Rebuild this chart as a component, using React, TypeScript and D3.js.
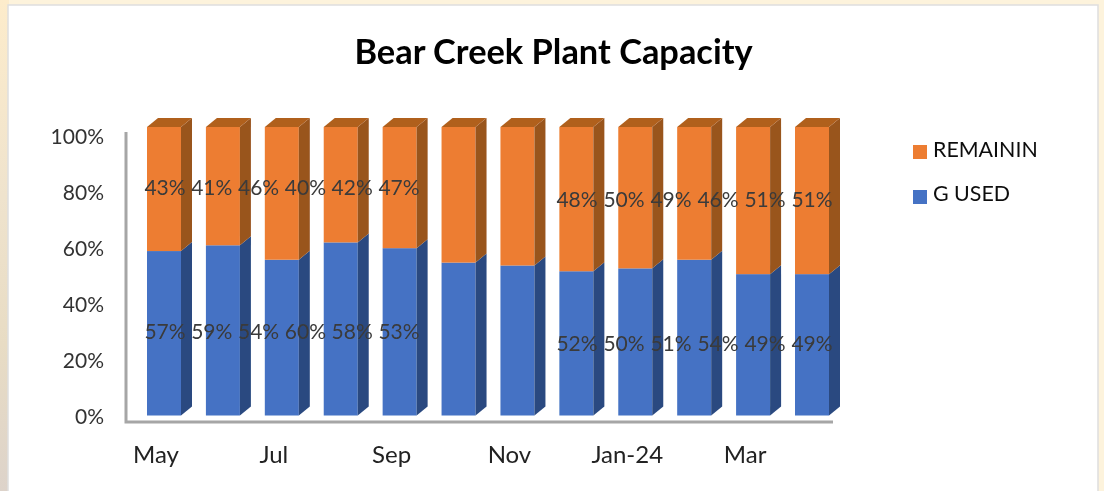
import React from "react";
import * as d3 from "d3";

const months = ["May","Jun","Jul","Aug","Sep","Oct","Nov","Dec","Jan-24","Feb","Mar","Apr"];
const axisLabels = ["May","Jul","Sep","Nov","Jan-24","Mar"];
const used = [57,59,54,60,58,53,52,50,51,54,49,49];
const remaining = [43,41,46,40,42,47,48,50,49,46,51,51];
const labelledFirst = months.slice(0,6);
const labelledLast = months.slice(6);
const yTicks = [0,20,40,60,80,100];
const legendNames = ["REMAININ","G USED"];

const W = 1104, H = 491;
const font = "Lato,'Open Sans',sans-serif";
const dx = 11, dy = 9;

export default function App() {
  const x = d3.scalePoint<string>().domain(months).range([147, 795]);
  const y = d3.scaleLinear().domain([0,100]).range([415.5,127]);
  const yAxis = d3.scaleLinear().domain([0,100]).range([416,136]);
  const xAxisLabel = d3.scalePoint<string>().domain(months).range([156, 804]);
  const lab1 = d3.scalePoint<string>().domain(labelledFirst).range([165, 399]);
  const lab2 = d3.scalePoint<string>().domain(labelledLast).range([577, 812]);
  const bw = 34;
  const line = d3.line();
  const poly = (pts: [number,number][]) => line(pts)! + "Z";

  const seg = (m: string, lo: number, hi: number, front: string, side: string, top: string | null) => {
    const x0 = x(m)!, x1 = x0 + bw, y0 = y(lo), y1 = y(hi);
    return (
      <g key={m + lo}>
        <rect x={x0} y={y1} width={bw} height={y0 - y1} fill={front} />
        <path d={poly([[x1,y0],[x1+dx,y0-dy],[x1+dx,y1-dy],[x1,y1]])} fill={side} />
        {top && <path d={poly([[x0,y1],[x0+dx,y1-dy],[x1+dx,y1-dy],[x1,y1]])} fill={top} />}
      </g>
    );
  };

  return (
    <svg width={W} height={H} style={{position:"absolute",left:0,top:0,fontFamily:font}}>
      <defs>
        <filter id="soft"><feGaussianBlur stdDeviation="0.45" /></filter>
        <filter id="softer"><feGaussianBlur stdDeviation="0.25" /></filter>
        <linearGradient id="leftStrip" x1="0" y1="0" x2="0" y2="1">
          <stop offset="0" stopColor="#fdeccb" />
          <stop offset="0.4" stopColor="#efe3cd" />
          <stop offset="0.7" stopColor="#e8dcc4" />
          <stop offset="1" stopColor="#ddd3ca" />
        </linearGradient>
      </defs>
      <rect width={W} height={H} fill="#fdf3dc" />
      <rect width={9} height={H} fill="url(#leftStrip)" />
      <rect x={8} y={5} width={1090} height={H} fill="#fff" stroke="#dedede" strokeWidth={1.5} />
      <text x={553.5} y={64} textAnchor="middle" fontSize={34.4} fontWeight={700} fill="#000" filter="url(#softer)">Bear Creek Plant Capacity</text>
      <g filter="url(#soft)">
        <path d={poly([[126,132],[126,422],[833,422],[126,422]])} fill="none" stroke="#a6a6a6" strokeWidth={3} />
        {months.map((m,i) => seg(m, 0, used[i], "#4472c4", "#2a4a80", null))}
        {months.map((m,i) => seg(m, used[i], 100, "#ed7d31", "#99541f", "#b0601f"))}
      </g>
      <g filter="url(#softer)">
        {yTicks.map(t => (
          <text key={t} x={104} y={yAxis(t)} dy="0.36em" textAnchor="end" fontSize={21} fill="#333">{t}%</text>
        ))}
        {axisLabels.map(l => (
          <text key={l} x={xAxisLabel(l)} y={463} textAnchor="middle" fontSize={24} fill="#222">{l}</text>
        ))}
        {labelledFirst.map((m) => { const i = months.indexOf(m); return (
          <g key={m} fontSize={21} fill="#3a3a3a" textAnchor="middle">
            <text x={lab1(m)} y={195}>{remaining[i]}%</text>
            <text x={lab1(m)} y={339}>{used[i]}%</text>
          </g>
        );})}
        {labelledLast.map((m) => { const i = months.indexOf(m); return (
          <g key={m} fontSize={21} fill="#3a3a3a" textAnchor="middle">
            <text x={lab2(m)} y={207}>{remaining[i]}%</text>
            <text x={lab2(m)} y={351}>{used[i]}%</text>
          </g>
        );})}
        {legendNames.map((n,i) => (
          <g key={n}>
            <rect x={913} y={145 + i*45} width={14} height={14} fill={i===0?"#ed7d31":"#4472c4"} />
            <text x={933} y={157 + i*44} fontSize={21.4} fill="#111">{n}</text>
          </g>
        ))}
      </g>
    </svg>
  );
}
